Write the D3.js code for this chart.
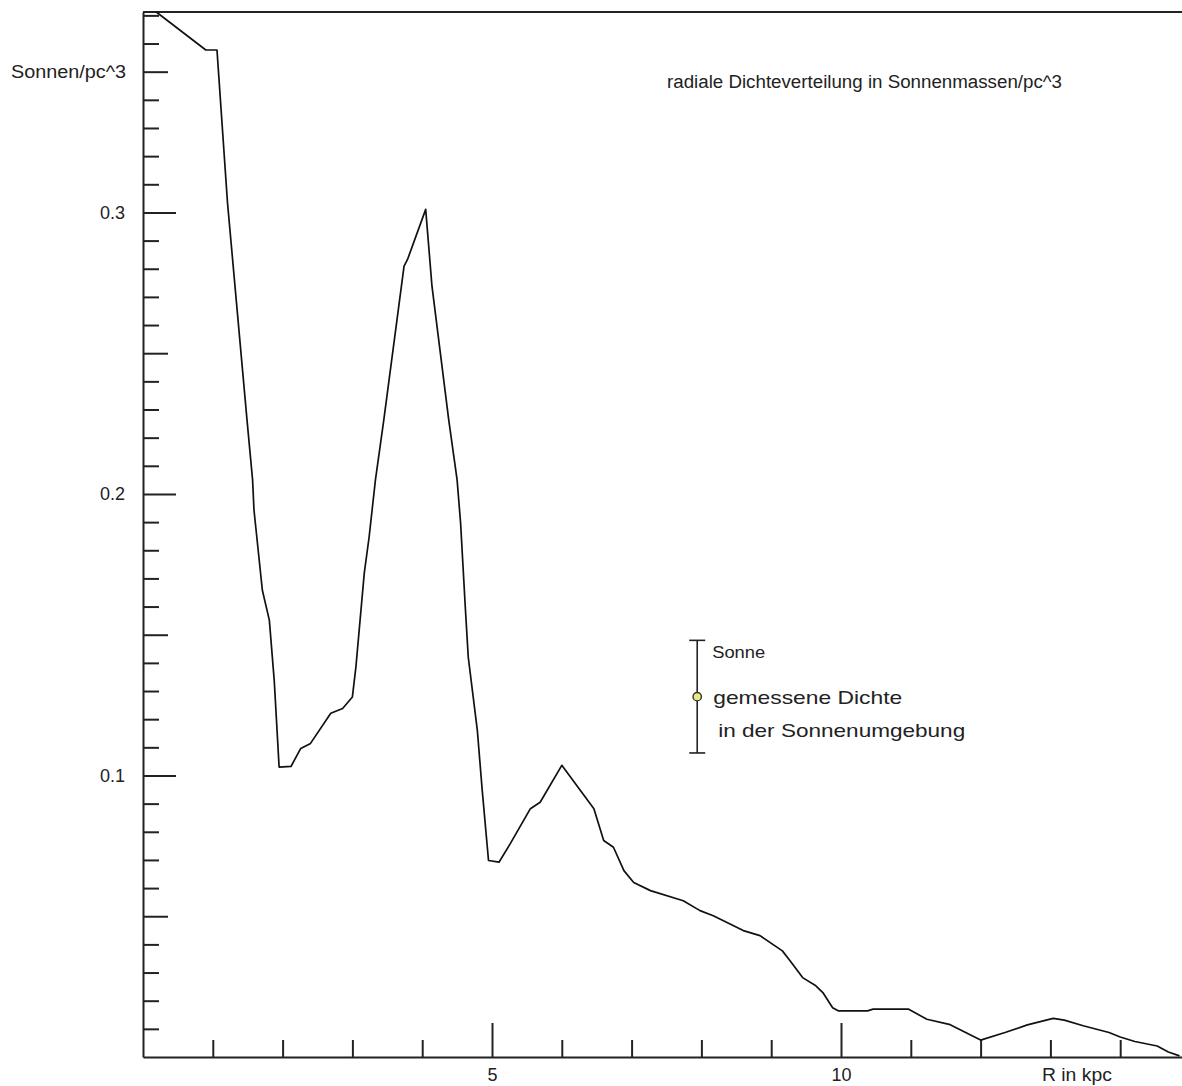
<!DOCTYPE html>
<html>
<head>
<meta charset="utf-8">
<script src="https://cdn.jsdelivr.net/npm/d3@7"></script>
<style>
  body { margin: 0; background: #fff; }
  text { font-family: "Liberation Sans", Arial, sans-serif; fill: #222; }
</style>
</head>
<body>
<div id="chart"></div>
<script>
// radial distance in kpc, density in solar masses / pc^3
var radius = [0.19, 0.90, 1.06, 1.21, 1.49, 1.57, 1.59, 1.71, 1.81, 1.88, 1.95, 2.12, 2.26, 2.40,
    2.69, 2.86, 3.00, 3.05, 3.17, 3.24, 3.33, 3.45, 3.74, 3.79, 4.05, 4.14, 4.38, 4.50, 4.55,
    4.62, 4.66, 4.79, 4.86, 4.95, 5.10, 5.26, 5.55, 5.69, 6.00, 6.46, 6.60, 6.74, 6.89, 7.03,
    7.27, 7.74, 7.98, 8.17, 8.60, 8.84, 9.16, 9.27, 9.45, 9.64, 9.74, 9.88, 9.96, 10.38, 10.46,
    10.97, 11.23, 11.55, 12.00, 12.35, 12.67, 13.04, 13.20, 13.47, 13.84, 14.00, 14.21, 14.53,
    14.69, 14.85];
var density = [0.3712, 0.3577, 0.3577, 0.3036, 0.2263, 0.2050, 0.1943, 0.1658, 0.1552, 0.1338,
    0.1030, 0.1032, 0.1096, 0.1114, 0.1221, 0.1238, 0.1279, 0.1385, 0.1719, 0.1848, 0.2050,
    0.2263, 0.2809, 0.2833, 0.3011, 0.2738, 0.2263, 0.2050, 0.1897, 0.1587, 0.1420, 0.1160,
    0.0947, 0.0698, 0.0692, 0.0757, 0.0882, 0.0905, 0.1036, 0.0882, 0.0769, 0.0745, 0.0662,
    0.0620, 0.0591, 0.0555, 0.0520, 0.0502, 0.0449, 0.0431, 0.0377, 0.0342, 0.0282, 0.0253,
    0.0229, 0.0175, 0.0164, 0.0164, 0.0170, 0.0170, 0.0134, 0.0116, 0.0060, 0.0087, 0.0114,
    0.0137, 0.0131, 0.0111, 0.0087, 0.0071, 0.0055, 0.0039, 0.0018, 0.0004];

// measured density near the sun
var sunR = [7.94];
var sunDensity = [0.128];
var sunError = [0.020];

var xTicks = [1, 2, 3, 4, 5, 6, 7, 8, 9, 10, 11, 12, 13, 14];
var xLabels = [5, 10];
var yTicks = d3.range(1, 38).map(function (i) { return i / 100; });
var yLabels = [0.1, 0.2, 0.3];

var width = 1182, height = 1086;

var svg = d3.select("#chart")
    .append("svg")
    .attr("width", width)
    .attr("height", height);

var x = d3.scaleLinear().domain([0, 15]).range([143, 143 + 15 * 69.8]);
var y = d3.scaleLinear().domain([0, 0.3712]).range([1057, 12]);

// top frame line
svg.append("line")
    .attr("x1", x(0)).attr("x2", width)
    .attr("y1", y(0.3712)).attr("y2", y(0.3712))
    .attr("stroke", "#222").attr("stroke-width", 2);

// x axis, ticks pointing up into the plot
var xAxis = svg.append("g")
    .attr("transform", "translate(0," + y(0) + ")")
    .call(d3.axisBottom(x)
        .tickValues(xTicks)
        .tickSizeInner(-17)
        .tickSizeOuter(0)
        .tickPadding(11)
        .tickFormat(function (d) { return xLabels.indexOf(d) >= 0 ? d : ""; }));
xAxis.selectAll(".tick line")
    .attr("y2", function (d) { return xLabels.indexOf(d) >= 0 ? -34 : -17; });

// y axis, ticks pointing right into the plot
var yAxis = svg.append("g")
    .attr("transform", "translate(" + x(0) + ",0)")
    .call(d3.axisLeft(y)
        .tickValues(yTicks)
        .tickSizeInner(-16)
        .tickSizeOuter(0)
        .tickPadding(18)
        .tickFormat(function (d) {
            var r = Math.round(d * 100);
            return yLabels.indexOf(r / 100) >= 0 ? d3.format(".1f")(d) : "";
        }));
yAxis.selectAll(".tick line")
    .attr("x2", function (d) {
        var r = Math.round(d * 100);
        if (r % 10 === 0) return 33;
        if (r % 5 === 0) return 25;
        return 16;
    });

svg.selectAll(".domain, .tick line")
    .attr("stroke", "#222")
    .attr("stroke-width", 2);
svg.selectAll(".tick text")
    .attr("font-size", 18)
    .attr("font-family", "Liberation Sans, Arial, sans-serif")
    .attr("fill", "#222");

// axis titles
svg.append("text")
    .attr("x", 11).attr("y", y(0.35) + 6)
    .attr("font-size", 18)
    .attr("textLength", 115).attr("lengthAdjust", "spacingAndGlyphs")
    .text("Sonnen/pc^3");

svg.append("text")
    .attr("x", x(13.38)).attr("y", y(0) + 24)
    .attr("text-anchor", "middle")
    .attr("font-size", 18)
    .attr("textLength", 70).attr("lengthAdjust", "spacingAndGlyphs")
    .text("R in kpc");

svg.append("text")
    .attr("x", 667).attr("y", 88)
    .attr("font-size", 18)
    .attr("textLength", 395).attr("lengthAdjust", "spacingAndGlyphs")
    .text("radiale Dichteverteilung in Sonnenmassen/pc^3");

// density curve
var line = d3.line()
    .x(function (d) { return x(d[0]); })
    .y(function (d) { return y(d[1]); });

svg.append("path")
    .datum(d3.zip(radius, density))
    .attr("d", line)
    .attr("fill", "none")
    .attr("stroke", "#111")
    .attr("stroke-width", 1.7)
    .attr("stroke-linejoin", "round");

// sun measurement with error bar
function drawSun(g, r, v, err) {
    var sx = x(r);
    var yHi = y(v + err);
    var yLo = y(v - err);
    g.append("line")
        .attr("x1", sx).attr("x2", sx).attr("y1", yHi).attr("y2", yLo)
        .attr("stroke", "#222").attr("stroke-width", 1.6);
    g.append("line")
        .attr("x1", sx - 8).attr("x2", sx + 8).attr("y1", yHi).attr("y2", yHi)
        .attr("stroke", "#222").attr("stroke-width", 1.6);
    g.append("line")
        .attr("x1", sx - 8).attr("x2", sx + 8).attr("y1", yLo).attr("y2", yLo)
        .attr("stroke", "#222").attr("stroke-width", 1.6);
    g.append("circle")
        .attr("cx", sx).attr("cy", y(v))
        .attr("r", 4.2)
        .attr("fill", "#e4ec80")
        .attr("stroke", "#333").attr("stroke-width", 1.4);

    g.append("text")
        .attr("x", sx + 15).attr("y", yHi + 18)
        .attr("font-size", 16)
        .attr("textLength", 53).attr("lengthAdjust", "spacingAndGlyphs")
        .text("Sonne");
    g.append("text")
        .attr("x", sx + 16).attr("y", y(v) + 7)
        .attr("font-size", 19)
        .attr("fill", "#333")
        .attr("textLength", 189).attr("lengthAdjust", "spacingAndGlyphs")
        .text("gemessene Dichte");
    g.append("text")
        .attr("x", sx + 21).attr("y", y(v) + 40)
        .attr("font-size", 19)
        .attr("fill", "#333")
        .attr("textLength", 247).attr("lengthAdjust", "spacingAndGlyphs")
        .text("in der Sonnenumgebung");
}

var sun = svg.append("g");
for (var i = 0; i < sunR.length; i++) {
    drawSun(sun, sunR[i], sunDensity[i], sunError[i]);
}
</script>
</body>
</html>
